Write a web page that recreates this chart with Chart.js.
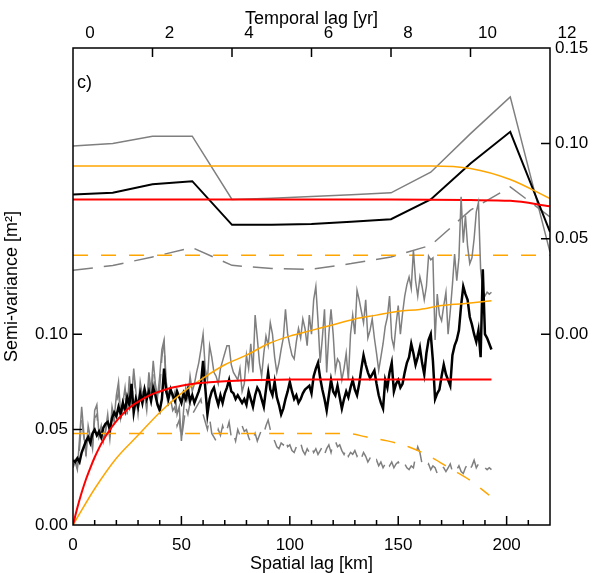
<!DOCTYPE html>
<html>
<head>
<meta charset="utf-8">
<script src="https://cdn.jsdelivr.net/npm/chart.js@4.4.1/dist/chart.umd.min.js"></script>
<style>
  body { margin: 0; background: #fff; }
  #wrap { width: 593px; height: 573px; }
</style>
</head>
<body>
<div id="wrap"><canvas id="variogram" width="593" height="573"></canvas></div>
<script>
// spatial lags in km (bottom axis)
const spatialLag = [];
for (let k = 0; k <= 193; k++) spatialLag.push(k);

// empirical semi-variance, black thick line
const blackSpatial = [
  0.034, 0.033, 0.035, 0.033, 0.038, 0.041, 0.044, 0.046, 0.043, 0.048,
  0.050, 0.047, 0.049, 0.046, 0.051, 0.053, 0.054, 0.050, 0.056, 0.059,
  0.057, 0.062, 0.058, 0.064, 0.060, 0.067, 0.063, 0.074, 0.059, 0.066,
  0.062, 0.069, 0.064, 0.071, 0.066, 0.070, 0.065, 0.072, 0.068, 0.063,
  0.060, 0.066, 0.082, 0.070, 0.066, 0.071, 0.068, 0.065, 0.070, 0.067,
  0.064, 0.069, 0.066, 0.071, 0.065, 0.068, 0.064, 0.067, 0.070, 0.074,
  0.086, 0.072, 0.058, 0.066, 0.070, 0.072, 0.067, 0.063, 0.068, 0.064,
  0.069, 0.072, 0.076, 0.070, 0.069, 0.066, 0.068, 0.066, 0.064, 0.066,
  0.063, 0.070, 0.066, 0.062, 0.068, 0.072, 0.070, 0.066, 0.062, 0.071,
  0.080, 0.071, 0.068, 0.075, 0.067, 0.063, 0.058, 0.061, 0.066, 0.070,
  0.075, 0.070, 0.066, 0.068, 0.064, 0.066, 0.069, 0.071, 0.072, 0.073,
  0.069, 0.078, 0.082, 0.085, 0.077, 0.071, 0.066, 0.060, 0.068, 0.076,
  0.070, 0.068, 0.073, 0.067, 0.061, 0.066, 0.070, 0.067, 0.072, 0.076,
  0.071, 0.068, 0.074, 0.082, 0.089, 0.084, 0.080, 0.077, 0.079, 0.081,
  0.074, 0.068, 0.064, 0.061, 0.076, 0.072, 0.080, 0.085, 0.070, 0.074,
  0.076, 0.072, 0.074, 0.080, 0.085, 0.088, 0.095, 0.090, 0.084, 0.088,
  0.093, 0.085, 0.079, 0.090, 0.097, 0.100, 0.086, 0.066, 0.069, 0.071,
  0.078, 0.084, 0.079, 0.076, 0.073, 0.089, 0.094, 0.097, 0.102, 0.115,
  0.125, 0.121, 0.118, 0.109, 0.105, 0.100, 0.096, 0.102, 0.088, 0.134,
  0.100, 0.098, 0.095, 0.092
];

// gray thin solid line
const graySpatial = [
  0.030, 0.033, 0.029, 0.045, 0.062, 0.048, 0.036, 0.052, 0.046, 0.040,
  0.060, 0.063, 0.047, 0.052, 0.044, 0.050, 0.058, 0.046, 0.062, 0.056,
  0.068, 0.075, 0.058, 0.064, 0.072, 0.060, 0.078, 0.065, 0.082, 0.070,
  0.060, 0.075, 0.068, 0.072, 0.064, 0.080, 0.070, 0.086, 0.074, 0.067,
  0.078, 0.092, 0.097, 0.075, 0.068, 0.072, 0.066, 0.070, 0.058, 0.062,
  0.044, 0.060, 0.072, 0.066, 0.078, 0.070, 0.074, 0.080, 0.085, 0.092,
  0.100, 0.082, 0.076, 0.094, 0.088, 0.080, 0.078, 0.074, 0.082, 0.086,
  0.090, 0.094, 0.094, 0.084, 0.080, 0.078, 0.076, 0.082, 0.070, 0.074,
  0.089, 0.082, 0.095, 0.080, 0.110, 0.098, 0.085, 0.078, 0.090, 0.099,
  0.094, 0.106, 0.100, 0.088, 0.080, 0.085, 0.092, 0.098, 0.113, 0.100,
  0.094, 0.089, 0.087, 0.096, 0.103, 0.098, 0.108, 0.103, 0.094, 0.110,
  0.100, 0.118, 0.125, 0.107, 0.085, 0.098, 0.113, 0.080, 0.100, 0.113,
  0.100, 0.081, 0.087, 0.085, 0.076, 0.082, 0.090, 0.076, 0.100, 0.110,
  0.100, 0.123, 0.118, 0.112, 0.106, 0.118, 0.098, 0.102, 0.108, 0.098,
  0.090, 0.081, 0.088, 0.095, 0.104, 0.109, 0.120, 0.098, 0.093, 0.105,
  0.115, 0.100, 0.111, 0.120, 0.126, 0.130, 0.124, 0.144, 0.128, 0.120,
  0.130, 0.125, 0.118, 0.125, 0.141, 0.139, 0.140, 0.097, 0.121, 0.110,
  0.107, 0.115, 0.122, 0.100, 0.112, 0.126, 0.142, 0.128, 0.140, 0.172,
  0.148, 0.162, 0.146, 0.137, 0.140, 0.150, 0.164, 0.169, 0.134, 0.123,
  0.120, 0.122, 0.121, 0.122
];

// gray dashed line
const grayDashSpatial = [
  0.031, 0.034, 0.030, 0.040, 0.055, 0.046, 0.038, 0.050, 0.044, 0.041,
  0.056, 0.058, 0.046, 0.050, 0.043, 0.049, 0.055, 0.045, 0.058, 0.054,
  0.064, 0.070, 0.056, 0.062, 0.068, 0.058, 0.074, 0.063, 0.079, 0.068,
  0.058, 0.070, 0.064, 0.068, 0.060, 0.075, 0.066, 0.080, 0.070, 0.064,
  0.072, 0.088, 0.095, 0.070, 0.062, 0.066, 0.060, 0.062, 0.052, 0.055,
  0.045, 0.053, 0.062, 0.058, 0.064, 0.058, 0.060, 0.062, 0.064, 0.066,
  0.058, 0.054, 0.050, 0.056, 0.048, 0.046, 0.044, 0.050, 0.047, 0.052,
  0.048, 0.050, 0.054, 0.046, 0.048, 0.044, 0.050, 0.047, 0.052, 0.049,
  0.050, 0.046, 0.043, 0.045, 0.048, 0.044, 0.047, 0.050, 0.048, 0.052,
  0.055, 0.050, 0.046, 0.044, 0.041, 0.040, 0.043, 0.042, 0.045, 0.041,
  0.042, 0.039, 0.038, 0.041, 0.040, 0.043, 0.039, 0.037, 0.040, 0.038,
  0.041, 0.038, 0.040, 0.037, 0.039, 0.041, 0.037, 0.040, 0.042, 0.038,
  0.043, 0.044, 0.041, 0.042, 0.039, 0.037, 0.040, 0.036, 0.038, 0.037,
  0.039, 0.036, 0.038, 0.035, 0.038, 0.036, 0.033, 0.035, 0.034, 0.032,
  0.034, 0.031, 0.033, 0.030, 0.032, 0.034, 0.031, 0.033, 0.030, 0.032,
  0.033, 0.031, 0.030, 0.032, 0.030, 0.029, 0.031, 0.030, 0.036, 0.041,
  0.038, 0.032, 0.031, 0.030, 0.032, 0.029, 0.031, 0.030, 0.027, 0.029,
  0.031, 0.030, 0.028, 0.030, 0.032, 0.028, 0.030, 0.029, 0.031, 0.028,
  0.027, 0.030, 0.032, 0.029, 0.031, 0.034, 0.030, 0.032, 0.033, 0.031,
  0.030, 0.029, 0.030, 0.029
];

// spatial model curves
const redLag = [0, 2, 4, 6, 8, 10, 12, 14, 16, 18, 20, 22, 25, 28, 31, 35, 40, 45, 50, 55, 60, 70, 80, 100, 130, 160, 193];
const redSpatial = [0, 0.009, 0.017, 0.024, 0.030, 0.0355, 0.0403, 0.0445, 0.0482, 0.0515, 0.0545, 0.057, 0.0605, 0.0631, 0.0652, 0.0678, 0.070, 0.0718, 0.073, 0.0739, 0.0745, 0.0753, 0.0758, 0.0762, 0.0763, 0.0763, 0.0763];

const orangeLag = [0, 10, 20, 30, 40, 50, 60, 70, 80, 90, 100, 110, 120, 130, 140, 150, 160, 170, 180, 193];
const orangeSpatial = [0, 0.019, 0.035, 0.047, 0.059, 0.069, 0.077, 0.084, 0.089, 0.095, 0.099, 0.102, 0.105, 0.108, 0.110, 0.112, 0.113, 0.115, 0.116, 0.1175];

const orangeDashLag = [0, 40, 80, 120, 128, 135, 145, 155, 165, 174, 183, 192];
const orangeDashSpatial = [0.048, 0.048, 0.048, 0.048, 0.0478, 0.0462, 0.0441, 0.0409, 0.0357, 0.0296, 0.0235, 0.0156];

// temporal lags in years (top axis)
const temporalLag = [0, 1, 2, 3, 4, 5, 6, 7, 8, 9, 10, 11, 12];
const grayTemporal = [0.0986, 0.100, 0.1037, 0.1038, 0.0706, 0.0712, 0.0722, 0.0731, 0.0741, 0.0849, 0.1051, 0.1244, 0.043];
const blackTemporal = [0.0732, 0.0741, 0.0786, 0.0802, 0.0573, 0.0574, 0.0578, 0.059, 0.0603, 0.0706, 0.0895, 0.1061, 0.0536];
const redTemporal = [0.0706, 0.0706, 0.0706, 0.0706, 0.0706, 0.0706, 0.0706, 0.0706, 0.0706, 0.0705, 0.0703, 0.0699, 0.0671];
const orangeTemporal = [0.0882, 0.0882, 0.0882, 0.0882, 0.0882, 0.0882, 0.0882, 0.0882, 0.0882, 0.0882, 0.0869, 0.0811, 0.0711];
const orangeDashTemporal = [0.0414, 0.0414, 0.0414, 0.0414, 0.0414, 0.0414, 0.0414, 0.0414, 0.0414, 0.0414, 0.0414, 0.0414, 0.0414];
const grayDashTemporal = [0.0335, 0.036, 0.0405, 0.0454, 0.0361, 0.0344, 0.034, 0.037, 0.0405, 0.0466, 0.065, 0.0772, 0.0615];

const GRAY = '#7f7f7f', ORANGE = '#ffa500', RED = '#ff0000';
const FONT = 'Liberation Sans, Arial, Helvetica, sans-serif';

function pts(xs, ys) {
  return ys.map((v, i) => ({ x: xs[i], y: v }));
}

function spatial(label, xs, ys, color, width, extra) {
  return Object.assign({
    label, data: pts(xs, ys), xAxisID: 'x', yAxisID: 'y',
    borderColor: color, borderWidth: width, pointRadius: 0, fill: false, tension: 0
  }, extra || {});
}
function temporal(label, ys, color, width, extra) {
  return Object.assign({
    label, data: pts(temporalLag, ys), xAxisID: 'x2', yAxisID: 'y2',
    borderColor: color, borderWidth: width, pointRadius: 0, fill: false, tension: 0
  }, extra || {});
}

// frame, inward tick marks and panel letter
const frameTicks = {
  id: 'frameTicks',
  afterDraw(chart) {
    const { ctx, chartArea: a, scales } = chart;
    ctx.save();
    ctx.strokeStyle = '#000';
    ctx.lineWidth = 1.5;
    ctx.strokeRect(a.left, a.top, a.right - a.left, a.bottom - a.top);
    ctx.beginPath();
    for (let v = 10; v < 220; v += 10) {
      const x = scales.x.getPixelForValue(v);
      const len = v % 50 === 0 ? 9 : 5;
      ctx.moveTo(x, a.bottom); ctx.lineTo(x, a.bottom - len);
    }
    for (let v = 2; v < 12; v += 2) {
      const x = scales.x2.getPixelForValue(v);
      ctx.moveTo(x, a.top); ctx.lineTo(x, a.top + 9);
    }
    [0.05, 0.10].forEach(v => {
      const y = scales.y.getPixelForValue(v);
      ctx.moveTo(a.left, y); ctx.lineTo(a.left + 9, y);
    });
    [0, 0.05, 0.10].forEach(v => {
      const y = scales.y2.getPixelForValue(v);
      ctx.moveTo(a.right, y); ctx.lineTo(a.right - 9, y);
    });
    ctx.stroke();
    ctx.fillStyle = '#000';
    ctx.font = '18px ' + FONT;
    ctx.textBaseline = 'alphabetic';
    ctx.fillText('c)', a.left + 4, a.top + 40);
    ctx.restore();
  }
};

const tickFont = { family: FONT, size: 17 };
const titleFont = { family: FONT, size: 18, lineHeight: 1 };

new Chart(document.getElementById('variogram'), {
  type: 'line',
  data: {
    datasets: [
      spatial('red model', redLag, redSpatial, RED, 2, { cubicInterpolationMode: 'monotone' }),
      spatial('orange model', orangeLag, orangeSpatial, ORANGE, 1.5, { cubicInterpolationMode: 'monotone' }),
      spatial('orange dashed', orangeDashLag, orangeDashSpatial, ORANGE, 1.5, { borderDash: [15, 13], cubicInterpolationMode: 'monotone' }),
      spatial('black', spatialLag, blackSpatial, '#000', 2.5),
      spatial('gray', spatialLag, graySpatial, GRAY, 1.5),
      spatial('gray dashed', spatialLag, grayDashSpatial, GRAY, 1.5, { borderDash: [20, 11] }),
      temporal('red t', redTemporal, RED, 2, { cubicInterpolationMode: 'monotone' }),
      temporal('orange t', orangeTemporal, ORANGE, 1.5, { cubicInterpolationMode: 'monotone' }),
      temporal('orange dashed t', orangeDashTemporal, ORANGE, 1.5, { borderDash: [15, 13] }),
      temporal('black t', blackTemporal, '#000', 2),
      temporal('gray t', grayTemporal, GRAY, 1.5),
      temporal('gray dashed t', grayDashTemporal, GRAY, 1.5, { borderDash: [20, 11] })
    ]
  },
  options: {
    responsive: false,
    animation: false,
    layout: { padding: 0 },
    plugins: { legend: { display: false }, tooltip: { enabled: false } },
    scales: {
      x: {
        type: 'linear', position: 'bottom', min: 0, max: 220,
        grid: { display: false, drawTicks: false }, border: { display: false },
        ticks: {
          stepSize: 50, includeBounds: false, autoSkip: false, padding: 10,
          color: '#000', font: tickFont,
          callback: v => (v % 50 === 0 && v <= 200) ? String(v) : ''
        },
        title: { display: true, text: 'Spatial lag [km]', color: '#000', font: titleFont, padding: { top: 0, bottom: 0 } },
        afterFit: s => { s.height = 48; }
      },
      x2: {
        type: 'linear', position: 'top', min: 0, max: 12,
        grid: { display: false, drawTicks: false }, border: { display: false },
        ticks: { stepSize: 2, autoSkip: false, padding: 4, labelOffset: 17, color: '#000', font: tickFont },
        title: { display: true, text: 'Temporal lag [yr]', color: '#000', font: titleFont, padding: { top: 10, bottom: 0 } },
        afterFit: s => { s.height = 48; }
      },
      y: {
        type: 'linear', position: 'left', min: 0, max: 0.25,
        grid: { display: false, drawTicks: false }, border: { display: false },
        ticks: {
          stepSize: 0.05, autoSkip: false, padding: 5, color: '#000', font: tickFont,
          callback: v => v < 0.11 ? v.toFixed(2) : ''
        },
        title: { display: true, text: 'Semi-variance [m²]', color: '#000', font: titleFont, padding: { top: 3, bottom: 0 } },
        afterFit: s => { s.width = 73; }
      },
      y2: {
        type: 'linear', position: 'right', min: -0.1, max: 0.15,
        grid: { display: false, drawTicks: false }, border: { display: false },
        ticks: {
          stepSize: 0.05, autoSkip: false, padding: 5, color: '#000', font: tickFont,
          callback: v => v > -0.001 ? (Math.abs(v) < 1e-6 ? 0 : v).toFixed(2) : ''
        },
        afterFit: s => { s.width = 43; }
      }
    }
  },
  plugins: [frameTicks]
});
</script>
</body>
</html>
